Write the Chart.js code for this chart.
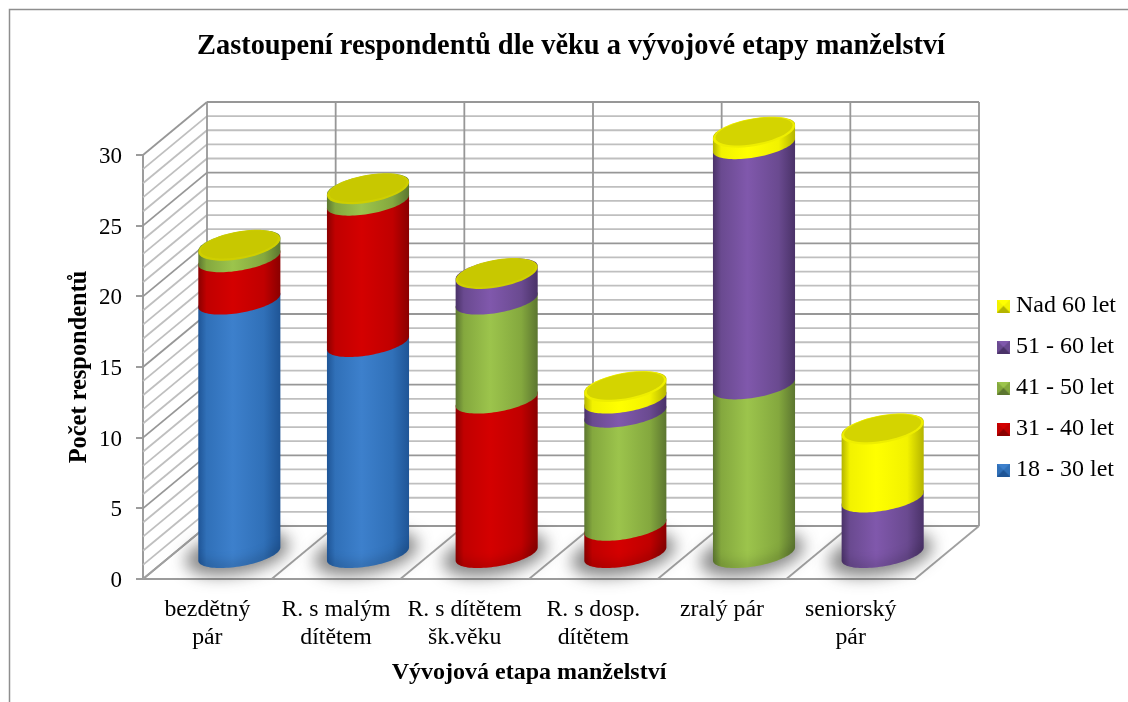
<!DOCTYPE html>
<html><head><meta charset="utf-8">
<style>html,body{margin:0;padding:0;background:#fff;overflow:hidden}#w{width:1128px;height:702px}canvas{display:block;filter:blur(0.35px)}</style>
<script src="https://cdn.jsdelivr.net/npm/chart.js@4"></script>
</head><body><div id="w"><canvas id="c" width="1128" height="702"></canvas></div>
<script>
const titleText = 'Zastoupení respondentů dle věku a vývojové etapy manželství';
const xTitle = 'Vývojová etapa manželství';
const yTitle = 'Počet respondentů';
const categories = [['bezdětný','pár'],['R. s malým','dítětem'],['R. s dítětem','šk.věku'],['R. s dosp.','dítětem'],'zralý pár',['seniorský','pár']];
const age18_30 = [18,15,0,0,0,0];
const age31_40 = [3,10,11,2,0,0];
const age41_50 = [1,1,7,8,12,0];
const age51_60 = [0,0,2,1,17,4];
const ageOver60 = [0,0,0,1,1,5];

// style: [edge, mid, light]
const palette = {
  blue:['#1f5596','#3070b8','#3d80cc'],
  red:['#8a0000','#c00000','#d40000'],
  green:['#5c7630','#84a83e','#9cc44c'],
  purple:['#4a3268','#6a4a90','#8058ac'],
  yellow:['#b4b400','#f2f200','#ffff00']
};
const DEPTH_X = 64, DEPTH_Y = 53, BAR_DX = 32, BAR_DY = 24, SHEAR = 0.16, RY = 12.4;

function ellipsePts(cx, cy, rx, ry, from, to){
  const p=[];
  for(let i=0;i<=48;i++){const t=from+(to-from)*i/48;
    p.push([cx+rx*Math.cos(t), cy-SHEAR*rx*Math.cos(t)+ry*Math.sin(t)]);}
  return p;
}
function trace(ctx, pts, start){pts.forEach((q,i)=>{(i===0&&start)?ctx.moveTo(q[0],q[1]):ctx.lineTo(q[0],q[1]);});}

function marker(col){
  const m=document.createElement('canvas');m.width=13;m.height=13;const g=m.getContext('2d');
  g.fillStyle=col[1];g.fillRect(0,0,13,13);
  g.fillStyle=col[2];g.beginPath();g.moveTo(0,0);g.lineTo(13,0);g.lineTo(6.5,6.5);g.fill();
  g.fillStyle=col[0];g.beginPath();g.moveTo(0,13);g.lineTo(13,13);g.lineTo(6.5,6.5);g.fill();
  return m;
}

function drawWalls(chart){
  const {ctx}=chart, y=chart.scales.y, x=chart.scales.x;
  const L=x.left,R=x.right,B=y.bottom,T=y.top;
  const line=(a,b,c,d,col,w)=>{ctx.strokeStyle=col;ctx.lineWidth=w;ctx.beginPath();ctx.moveTo(a,b);ctx.lineTo(c,d);ctx.stroke();};
  for(let v=y.min;v<=y.max;v++){
    const major=v%5===0, py=y.getPixelForValue(v), col=major?'#979797':'#bfbfbf', w=1.8;
    line(L,py,L+DEPTH_X,py-DEPTH_Y,col,w);
    line(L+DEPTH_X,py-DEPTH_Y,R+DEPTH_X,py-DEPTH_Y,col,w);
  }
  const n=categories.length;
  for(let i=0;i<=n;i++){
    const px=L+(R-L)*i/n;
    line(px+DEPTH_X,T-DEPTH_Y,px+DEPTH_X,B-DEPTH_Y,'#979797',1.8);
    line(px,B,px+DEPTH_X,B-DEPTH_Y,'#a0a0a0',1.8);
  }
}
function drawShadow(ctx,cx,by,rx){
  ctx.save();ctx.filter='blur(8px)';ctx.fillStyle='rgba(40,40,40,0.55)';
  ctx.beginPath();trace(ctx,ellipsePts(cx-2,by-1,rx+11,RY+9,0,Math.PI*2),true);ctx.closePath();ctx.fill();ctx.restore();
}
function drawSegment(ctx,cx,topY,baseY,rx,col,isFirst){
  const g=ctx.createLinearGradient(cx-rx,0,cx+rx,0);
  g.addColorStop(0,col[0]);g.addColorStop(0.1,col[1]);g.addColorStop(0.42,col[2]);g.addColorStop(0.8,col[1]);g.addColorStop(1,col[0]);
  ctx.beginPath();
  trace(ctx,ellipsePts(cx,baseY,rx,RY,0,Math.PI),true);
  trace(ctx,ellipsePts(cx,topY,rx,RY,Math.PI,2*Math.PI),false);
  ctx.closePath();
  ctx.fillStyle=g;ctx.fill();
  if(isFirst){
    ctx.save();ctx.clip();ctx.filter='blur(6px)';ctx.strokeStyle='rgba(0,0,0,0.2)';ctx.lineWidth=8;
    ctx.beginPath();trace(ctx,ellipsePts(cx,baseY,rx,RY,0,Math.PI),true);ctx.stroke();ctx.restore();
  }
}
function drawCap(ctx,cx,y,rx,hasBand){
  const ry=RY+1.6, c=y+1.2;
  ctx.beginPath();trace(ctx,ellipsePts(cx,c,rx,ry,0,2*Math.PI),true);ctx.closePath();ctx.fillStyle=hasBand?'#eeee00':'#cfcf00';ctx.fill();
  ctx.beginPath();trace(ctx,ellipsePts(cx,c-0.8,rx-2.5,ry-1.4,0,2*Math.PI),true);ctx.closePath();ctx.fillStyle=hasBand?'#d4d400':'#c8c800';ctx.fill();
}
const scene={
  id:'scene',
  beforeDraw(chart){
    const {ctx}=chart;ctx.save();ctx.fillStyle='#fff';ctx.fillRect(0,0,1128,702);
    ctx.strokeStyle='#8e8e8e';ctx.lineWidth=1.5;ctx.beginPath();ctx.moveTo(9.5,702);ctx.lineTo(9.5,9.5);ctx.lineTo(1128,9.5);ctx.stroke();ctx.restore();
  },
  afterLayout(chart){
    chart.titleBlock.left=0;chart.titleBlock.right=1142;
    const lg=chart.legend, pad=lg.options.labels.padding, h=lg.bottom-lg.top;
    lg.left=1003-pad;lg.right=1128;lg.top=294-pad;lg.bottom=lg.top+h;
  },
  beforeDatasetsDraw(chart){
    const {ctx}=chart;ctx.save();
    drawWalls(chart);
    const first=chart.getDatasetMeta(0).data;
    first.forEach(el=>{const p=el.getProps(['x','base','width'],true);drawShadow(ctx,p.x+BAR_DX,p.base-BAR_DY,p.width/2);});
    const n=chart.data.datasets.length, seen=first.map(()=>false);
    chart.data.datasets.forEach((ds,di)=>{
      chart.getDatasetMeta(di).data.forEach((el,i)=>{
        const p=el.getProps(['x','y','base','width'],true), v=ds.data[i];
        const cx=p.x+BAR_DX, rx=p.width/2;
        if(v>0){drawSegment(ctx,cx,p.y-BAR_DY,p.base-BAR_DY,rx,ds.shade,!seen[i]);seen[i]=true;}
        if(di===n-1) drawCap(ctx,cx,p.y-BAR_DY,rx,v>0);
      });
    });
    ctx.restore();
    return false;
  }
};
const mk=(label,data,col)=>({label,data,shade:col,backgroundColor:col[1],stack:'s',categoryPercentage:1,barPercentage:0.638});
const F='"Liberation Serif","Times New Roman",serif';
new Chart(document.getElementById('c'),{
  type:'bar',
  data:{labels:categories,datasets:[
    mk('18 - 30 let',age18_30,palette.blue),
    mk('31 - 40 let',age31_40,palette.red),
    mk('41 - 50 let',age41_50,palette.green),
    mk('51 - 60 let',age51_60,palette.purple),
    mk('Nad 60 let',ageOver60,palette.yellow)]},
  plugins:[scene],
  options:{
    responsive:false,animation:false,devicePixelRatio:1,
    layout:{padding:{left:0,top:0,bottom:0,right:93}},
    plugins:{
      tooltip:{enabled:false},
      title:{display:true,text:titleText,color:'#000',font:{family:F,size:28.4,weight:'bold',lineHeight:1.2},padding:{top:30,bottom:90.9}},
      legend:{position:'right',align:'start',reverse:true,maxWidth:120,
        labels:{color:'#000',font:{family:F,size:24},padding:17,boxWidth:1,boxHeight:13,usePointStyle:true,
          generateLabels(chart){
            return chart.data.datasets.map((d,i)=>({text:d.label,datasetIndex:i,pointStyle:marker(d.shade),fillStyle:d.backgroundColor,strokeStyle:'#fff',lineWidth:0,hidden:false,fontColor:'#000'}));
          }}}
    },
    scales:{
      x:{stacked:true,offset:true,
        afterFit(s){s.height=123;},
        grid:{display:false},border:{color:'#9c9c9c',width:2},
        ticks:{color:'#000',font:{family:F,size:23.8,lineHeight:1.18},maxRotation:0,autoSkip:false,padding:9},
        title:{display:true,text:xTitle,color:'#000',font:{family:F,size:24,weight:'bold',lineHeight:1.2},padding:{top:0,bottom:15}}},
      y:{stacked:true,min:0,max:30,
        afterFit(s){s.width=143;},
        grid:{drawOnChartArea:false,color:'#9c9c9c',tickLength:7,lineWidth:2},border:{color:'#9c9c9c',width:2},
        ticks:{color:'#000',font:{family:F,size:23},stepSize:5,padding:14,labelOffset:2},
        title:{display:true,text:yTitle,color:'#000',font:{family:F,size:24.4,weight:'bold',lineHeight:1.2},padding:{top:65,bottom:0}}}
    }
  }
});
</script></body></html>
